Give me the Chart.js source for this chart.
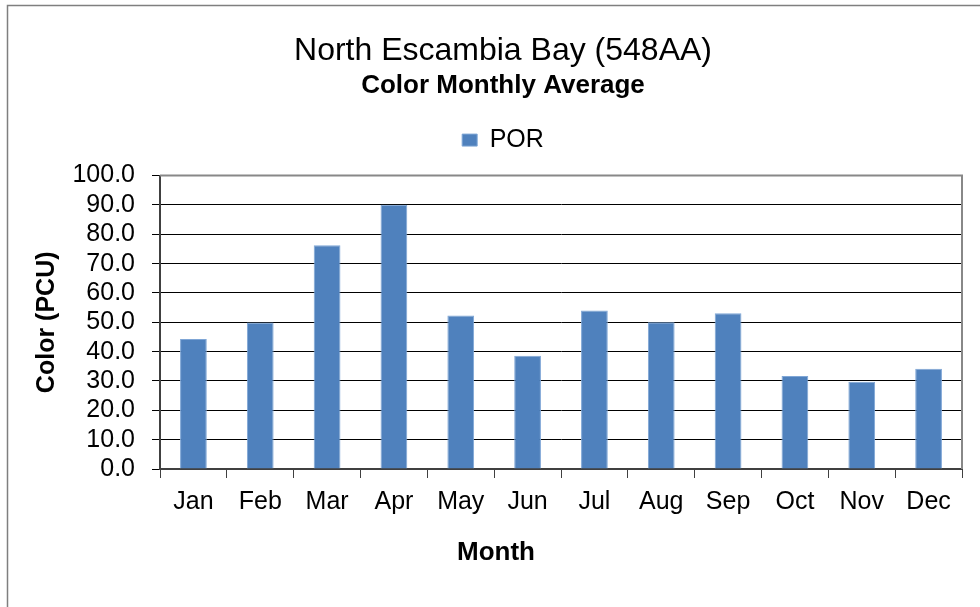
<!DOCTYPE html>
<html>
<head>
<meta charset="utf-8">
<script src="https://cdn.jsdelivr.net/npm/chart.js@4/dist/chart.umd.min.js"></script>
<style>
  html, body { margin: 0; padding: 0; background: #fff; }
  #wrap { width: 980px; height: 607px; position: relative; }
</style>
</head>
<body>
<div id="wrap"><canvas id="chart" width="980" height="607"></canvas></div>
<script>
// Monthly averages
const months = ['Jan', 'Feb', 'Mar', 'Apr', 'May', 'Jun', 'Jul', 'Aug', 'Sep', 'Oct', 'Nov', 'Dec'];
const porValues = [44.3, 49.9, 76.3, 90.1, 52.3, 38.6, 54.0, 50.0, 53.1, 31.7, 29.7, 34.2];
const yTicks = [0, 10, 20, 30, 40, 50, 60, 70, 80, 90, 100];

const FONT = '"Liberation Sans", Arial, sans-serif';

// frame lines: outer chart border + grey top/right edge of the plot area
const framePlugin = {
    id: 'frame',
    beforeInit(chart) {
        // leave more room between legend and plot area
        const legend = chart.legend;
        if (legend) {
            const origFit = legend.fit;
            legend.fit = function () {
                origFit.call(this);
                this.height += 13;
            };
        }
    },
    beforeDraw(chart) {
        const ctx = chart.ctx;
        ctx.save();
        ctx.strokeStyle = '#7f7f7f';
        ctx.lineWidth = 1.5;
        ctx.beginPath();
        ctx.moveTo(7.5, 607);
        ctx.lineTo(7.5, 5.5);
        ctx.lineTo(980, 5.5);
        ctx.stroke();
        ctx.restore();
    },
    afterDraw(chart) {
        const { ctx, chartArea } = chart;
        ctx.save();
        ctx.strokeStyle = '#888888';
        ctx.lineWidth = 2;
        ctx.beginPath();
        ctx.moveTo(chartArea.left, chartArea.top);
        ctx.lineTo(chartArea.right, chartArea.top);
        ctx.lineTo(chartArea.right, chartArea.bottom);
        ctx.stroke();

        // x axis title (Excel puts it left of the plot centre)
        ctx.fillStyle = '#000';
        ctx.font = 'bold 26px ' + FONT;
        ctx.textAlign = 'center';
        ctx.textBaseline = 'middle';
        ctx.fillText('Month', 496, 553);
        ctx.restore();
    }
};

new Chart(document.getElementById('chart'), {
    type: 'bar',
    data: {
        labels: months,
        datasets: [{
            label: 'POR',
            data: porValues,
            backgroundColor: '#4F81BD',
            borderColor: '#7FA6D6',
            borderWidth: 1,
            barPercentage: 0.4,
            categoryPercentage: 1.0
        }]
    },
    options: {
        responsive: false,
        animation: false,
        layout: { padding: { left: 44, right: 18, top: 32, bottom: 0 } },
        plugins: {
            title: {
                display: true,
                text: 'North Escambia Bay (548AA)',
                color: '#000',
                font: { family: FONT, size: 32, weight: 'normal', lineHeight: 1.2 },
                padding: { top: 0, bottom: 0 }
            },
            subtitle: {
                display: true,
                text: 'Color Monthly Average',
                color: '#000',
                font: { family: FONT, size: 26, weight: 'bold', lineHeight: 1.2 },
                padding: { top: 0, bottom: 0 }
            },
            legend: {
                display: true,
                position: 'top',
                labels: {
                    color: '#000',
                    font: { family: FONT, size: 25 },
                    boxWidth: 15,
                    boxHeight: 12,
                    padding: 26
                }
            },
            tooltip: { enabled: false }
        },
        scales: {
            x: {
                grid: {
                    display: true,
                    drawOnChartArea: false,
                    drawTicks: true,
                    tickLength: 9,
                    color: '#404040'
                },
                border: { color: '#404040', width: 2 },
                ticks: {
                    color: '#000',
                    font: { family: FONT, size: 25 },
                    padding: 9,
                    maxRotation: 0,
                    autoSkip: false
                },
                afterFit: (scale) => { scale.height = 138; }
            },
            y: {
                min: 0,
                max: 100,
                afterBuildTicks: (scale) => {
                    scale.ticks = yTicks.map(v => ({ value: v }));
                },
                grid: {
                    color: '#000',
                    lineWidth: 1,
                    drawTicks: true,
                    tickLength: 8
                },
                border: { color: '#404040', width: 2 },
                ticks: {
                    color: '#000',
                    font: { family: FONT, size: 25 },
                    padding: 17,
                    autoSkip: false,
                    callback: (v) => Number(v).toFixed(1)
                },
                title: {
                    display: true,
                    text: 'Color (PCU)',
                    color: '#000',
                    font: { family: FONT, size: 25, weight: 'bold', lineHeight: 1.2 },
                    padding: { top: -11.5, bottom: 0 }
                },
                afterFit: (scale) => { scale.width = 116; }
            }
        }
    },
    plugins: [framePlugin]
});
</script>
</body>
</html>
